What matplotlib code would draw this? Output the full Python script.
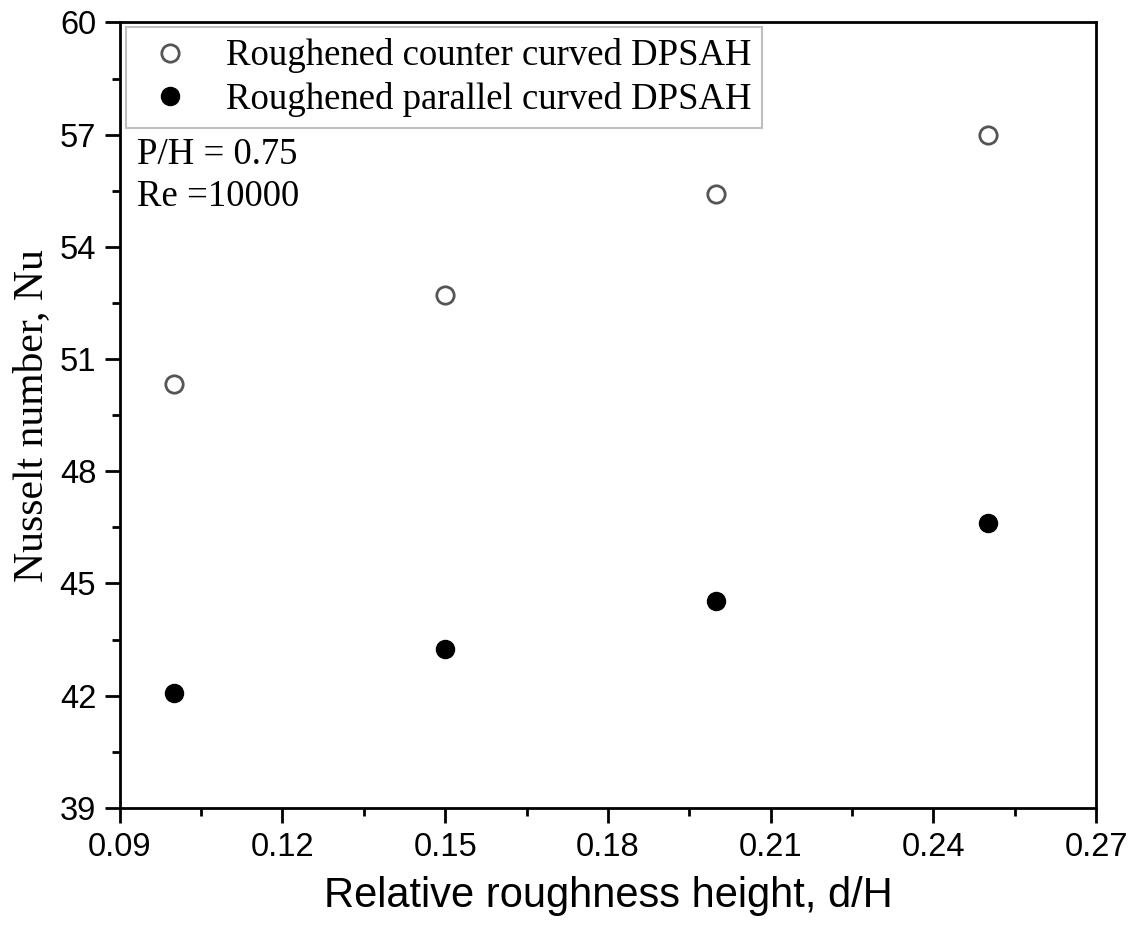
import matplotlib.pyplot as plt
from matplotlib.ticker import MultipleLocator, FormatStrFormatter

# data
d_H = [0.10, 0.15, 0.20, 0.25]
nu_counter = [50.33, 52.71, 55.40, 56.98]
nu_parallel = [42.07, 43.25, 44.53, 46.62]

serif = ['Liberation Serif', 'DejaVu Serif']
sans = ['Liberation Sans', 'DejaVu Sans']

fig = plt.figure(figsize=(11.3, 9.34), dpi=100)
ax = fig.add_axes([0.106, 0.135, 0.864, 0.841])

ax.plot(d_H, nu_counter, 'o', ms=12.5, mfc='white', mec='#555555', mew=2,
        linestyle='none', label='Roughened counter curved DPSAH')
ax.plot(d_H, nu_parallel, 'o', ms=13, mfc='black', mec='black',
        linestyle='none', label='Roughened parallel curved DPSAH')

ax.set_xlim(0.09, 0.27)
ax.set_ylim(39, 60)
ax.xaxis.set_major_locator(MultipleLocator(0.03))
ax.xaxis.set_minor_locator(MultipleLocator(0.015))
ax.yaxis.set_major_locator(MultipleLocator(3))
ax.yaxis.set_minor_locator(MultipleLocator(1.5))
ax.xaxis.set_major_formatter(FormatStrFormatter('%.2f'))

ax.tick_params(which='both', direction='out', top=False, right=False, width=2)
ax.tick_params(which='major', length=11, labelsize=23.5, pad=6)
ax.tick_params(which='minor', length=6)
for lab in ax.get_xticklabels() + ax.get_yticklabels():
    lab.set_family(sans)
for s in ax.spines.values():
    s.set_linewidth(2)

ax.set_xlabel('Relative roughness height, d/H', fontsize=30, family=sans, labelpad=10)
ax.set_ylabel('Nusselt number, Nu', fontsize=30, family=serif, labelpad=6)

leg = ax.legend(loc='upper left', bbox_to_anchor=(-0.001, 1.003), prop={'family': serif, 'size': 26.5},
                frameon=True, fancybox=False, edgecolor='#b0b0b0', handletextpad=0.6,
                borderpad=0.3, labelspacing=0.22, borderaxespad=0.2, handlelength=1.8)
leg.get_frame().set_linewidth(1.5)

ax.text(0.018, 0.832, 'P/H = 0.75', transform=ax.transAxes, fontsize=26.5, family=serif, va='center')
ax.text(0.018, 0.778, 'Re =10000', transform=ax.transAxes, fontsize=26.5, family=serif, va='center')

fig.savefig('out.png', dpi=100)
